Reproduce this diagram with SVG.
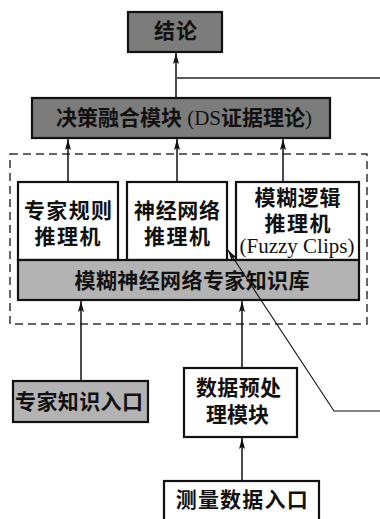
<svg xmlns="http://www.w3.org/2000/svg" width="380" height="519" viewBox="0 0 380 519">
<style>
.box{stroke:#111;stroke-width:2.2}
.w{fill:#fff}
.dark{fill:#7c7c7c}
.light{fill:#b3b3b3}
text{font-family:"Liberation Serif","Noto Sans CJK SC",serif;font-size:21px;font-weight:bold;fill:#111;text-anchor:middle;dominant-baseline:central}
.lat{font-weight:normal}
.ln{stroke:#111;stroke-width:1.5;fill:none}
.thin{stroke:#111;stroke-width:1.1;fill:none}
.gray{stroke:#5a5a5a;stroke-width:1.8;fill:none}
.dash{stroke:#333;stroke-width:1.5;fill:none;stroke-dasharray:8 5}
</style>
<defs>
<marker id="ah" markerUnits="userSpaceOnUse" viewBox="0 0 11 6" refX="11" refY="3" markerWidth="11" markerHeight="6" orient="auto">
<path d="M0,0 L11,3 L0,6 L2,3 z" fill="#111"/>
</marker>
</defs>
<rect width="380" height="519" fill="#fff"/>
<rect class="dash" x="10" y="154" width="357" height="170"/>
<g id="conclusion">
<rect class="box dark" x="128" y="12" width="94" height="40"/>
<text x="175.5" y="31" textLength="43" lengthAdjust="spacing">结论</text>
</g>
<g id="fusion">
<rect class="box dark" x="32" y="98" width="298" height="40"/>
<text x="184" y="117.5">决策融合模块<tspan class="lat"> (DS</tspan>证据理论<tspan class="lat">)</tspan></text>
</g>
<g id="rule-engine">
<rect class="box w" x="18" y="182" width="100" height="78"/>
<text x="68" y="211" textLength="88" lengthAdjust="spacing">专家规则</text>
<text x="67.5" y="237" textLength="66" lengthAdjust="spacing">推理机</text>
</g>
<g id="nn-engine">
<rect class="box w" x="127" y="182" width="100" height="78"/>
<text x="177" y="211" textLength="86" lengthAdjust="spacing">神经网络</text>
<text x="177" y="237" textLength="66" lengthAdjust="spacing">推理机</text>
</g>
<g id="fuzzy-engine">
<rect class="box w" x="236" y="182" width="123" height="78"/>
<text x="297.5" y="198" textLength="86" lengthAdjust="spacing">模糊逻辑</text>
<text x="297.5" y="223.5" textLength="66" lengthAdjust="spacing">推理机</text>
<text class="lat" x="297" y="246">(Fuzzy Clips)</text>
</g>
<g id="knowledge-base">
<rect class="box light" x="18" y="260" width="341" height="40"/>
<text x="192" y="281" textLength="235" lengthAdjust="spacing">模糊神经网络专家知识库</text>
</g>
<g id="expert-input">
<rect class="box light" x="13" y="381" width="135" height="41"/>
<text x="79" y="402" textLength="128" lengthAdjust="spacing">专家知识入口</text>
</g>
<g id="preprocess">
<rect class="box w" x="184" y="368" width="113" height="69"/>
<text x="238.5" y="388" textLength="85" lengthAdjust="spacing">数据预处</text>
<text x="237.5" y="415" textLength="63" lengthAdjust="spacing">理模块</text>
</g>
<g id="measure-input">
<rect class="box w" x="164" y="481" width="155" height="50"/>
<text x="241.7" y="500" textLength="132" lengthAdjust="spacing">测量数据入口</text>
</g>
<g id="connectors">
<line class="ln" x1="176" y1="98" x2="176" y2="53" marker-end="url(#ah)"/>
<line class="gray" x1="176" y1="78" x2="380" y2="78"/>
<line class="ln" x1="68" y1="182" x2="68" y2="139" marker-end="url(#ah)"/>
<line class="ln" x1="177" y1="182" x2="177" y2="139" marker-end="url(#ah)"/>
<line class="ln" x1="283" y1="182" x2="283" y2="139" marker-end="url(#ah)"/>
<line class="ln" x1="81" y1="381" x2="81" y2="301" marker-end="url(#ah)"/>
<line class="ln" x1="242" y1="368" x2="242" y2="301" marker-end="url(#ah)"/>
<line class="ln" x1="242" y1="481" x2="242" y2="438" marker-end="url(#ah)"/>
<polyline class="thin" points="380,411 334,411 228,250" marker-end="url(#ah)"/>
</g>
</svg>
